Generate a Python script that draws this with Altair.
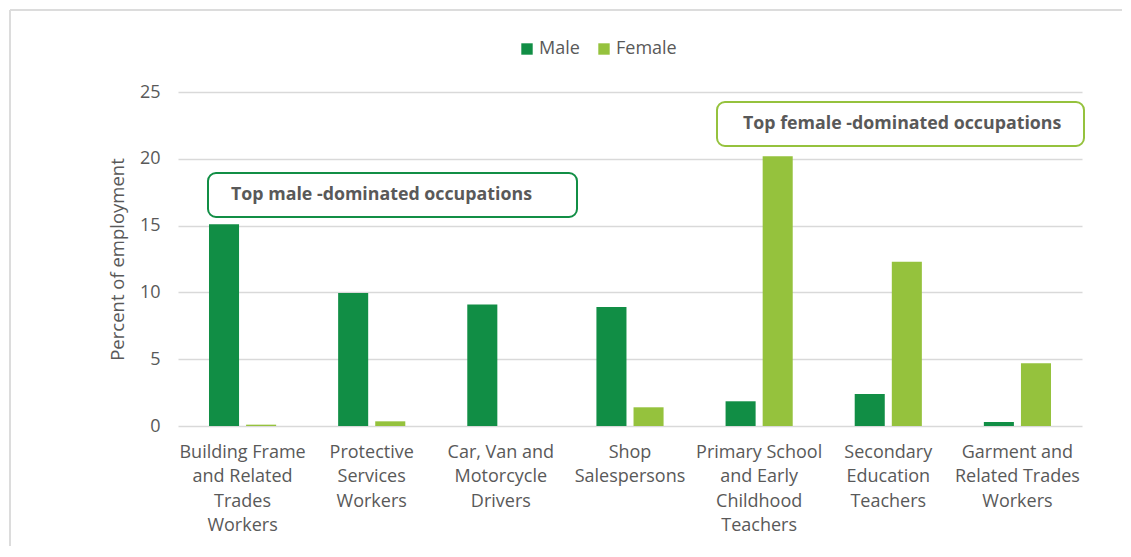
import altair as alt
import pandas as pd

categories = [
    "Building Frame\nand Related\nTrades\nWorkers",
    "Protective\nServices\nWorkers",
    "Car, Van and\nMotorcycle\nDrivers",
    "Shop\nSalespersons",
    "Primary School\nand Early\nChildhood\nTeachers",
    "Secondary\nEducation\nTeachers",
    "Garment and\nRelated Trades\nWorkers",
]
male = [15.1, 9.95, 9.1, 8.9, 1.85, 2.4, 0.3]
female = [0.1, 0.35, 0.0, 1.4, 20.2, 12.3, 4.7]
series = ["Male", "Female"]
colors = ["#118e45", "#95c23d"]

rows = []
for c, m, f in zip(categories, male, female):
    rows.append({"occ": c, "sex": "Male", "pct": m})
    rows.append({"occ": c, "sex": "Female", "pct": f})
df = pd.DataFrame(rows)

FONT = "Open Sans"
GREY = "#595959"
FS = 18

bars = alt.Chart(df).mark_bar().encode(
    x=alt.X("occ:N", sort=categories,
            scale=alt.Scale(paddingInner=0.48, paddingOuter=0.24),
            axis=alt.Axis(title=None, labelAngle=0, labelExpr="split(datum.label, '\\n')",
                          labelFontSize=FS, labelColor=GREY, labelFont=FONT,
                          labelLineHeight=24.5, labelPadding=17, ticks=False,
                          domain=False, labelLimit=200)),
    xOffset=alt.XOffset("sex:N", sort=series, scale=alt.Scale(paddingInner=0.19, paddingOuter=0)),
    y=alt.Y("pct:Q", scale=alt.Scale(domain=[0, 25]),
            axis=alt.Axis(values=[0, 5, 10, 15, 20, 25], title="Percent of employment",
                          titleFontSize=18.5, titleFont=FONT, titleColor=GREY,
                          titleFontWeight="normal", titleX=-61, titleY=167,
                          titleAngle=270, titleBaseline="middle", titleAlign="center",
                          labelFontSize=FS, labelColor=GREY, labelFont=FONT,
                          labelPadding=18, ticks=False, domain=False,
                          gridColor="#d9d9d9", gridWidth=1.5)),
    color=alt.Color("sex:N", sort=series,
                    scale=alt.Scale(domain=series, range=colors),
                    legend=alt.Legend(title=None, orient="none", legendX=340, legendY=-52,
                                      direction="horizontal", symbolType="square",
                                      symbolSize=130, symbolStrokeWidth=0,
                                      labelFontSize=FS, labelColor=GREY, labelFont=FONT,
                                      labelOffset=3, columnPadding=15)),
)

one = alt.Data(values=[{"a": 1}])

def box(x, x2, y, y2, stroke):
    return alt.Chart(one).mark_rect(fill="white", stroke=stroke, strokeWidth=2,
                                    cornerRadius=8).encode(
        x=alt.value(x), x2=alt.value(x2), y=alt.value(y), y2=alt.value(y2))

def label(x, y, txt):
    return alt.Chart(one).mark_text(align="left", baseline="middle", font=FONT,
                                    fontSize=17.8, fontWeight="bold", color=GREY,
                                    text=txt).encode(x=alt.value(x), y=alt.value(y))

male_box = box(30, 399, 81, 125, "#118e45")
male_txt = label(53, 103, "Top male -dominated occupations")
fem_box = box(539, 906, 10, 54, "#95c23d")
fem_txt = label(565, 32, "Top female -dominated occupations")

border_top = alt.Chart(one).mark_rule(color="#dcdcdc", strokeWidth=2).encode(
    x=alt.value(-168), x2=alt.value(960), y=alt.value(-82))
border_left = alt.Chart(one).mark_rule(color="#dcdcdc", strokeWidth=2).encode(
    x=alt.value(-168), y=alt.value(-82), y2=alt.value(470))

chart = alt.layer(border_top, border_left, bars, male_box, male_txt, fem_box, fem_txt).properties(
    width=904, height=334,
    autosize=alt.AutoSizeParams(type="none"),
    padding={"left": 170, "top": 84, "right": 40, "bottom": 120},
).configure(background="white").configure_view(stroke=None, strokeWidth=0)

chart.save("out.html", embed_options={"renderer": "svg", "actions": False})
